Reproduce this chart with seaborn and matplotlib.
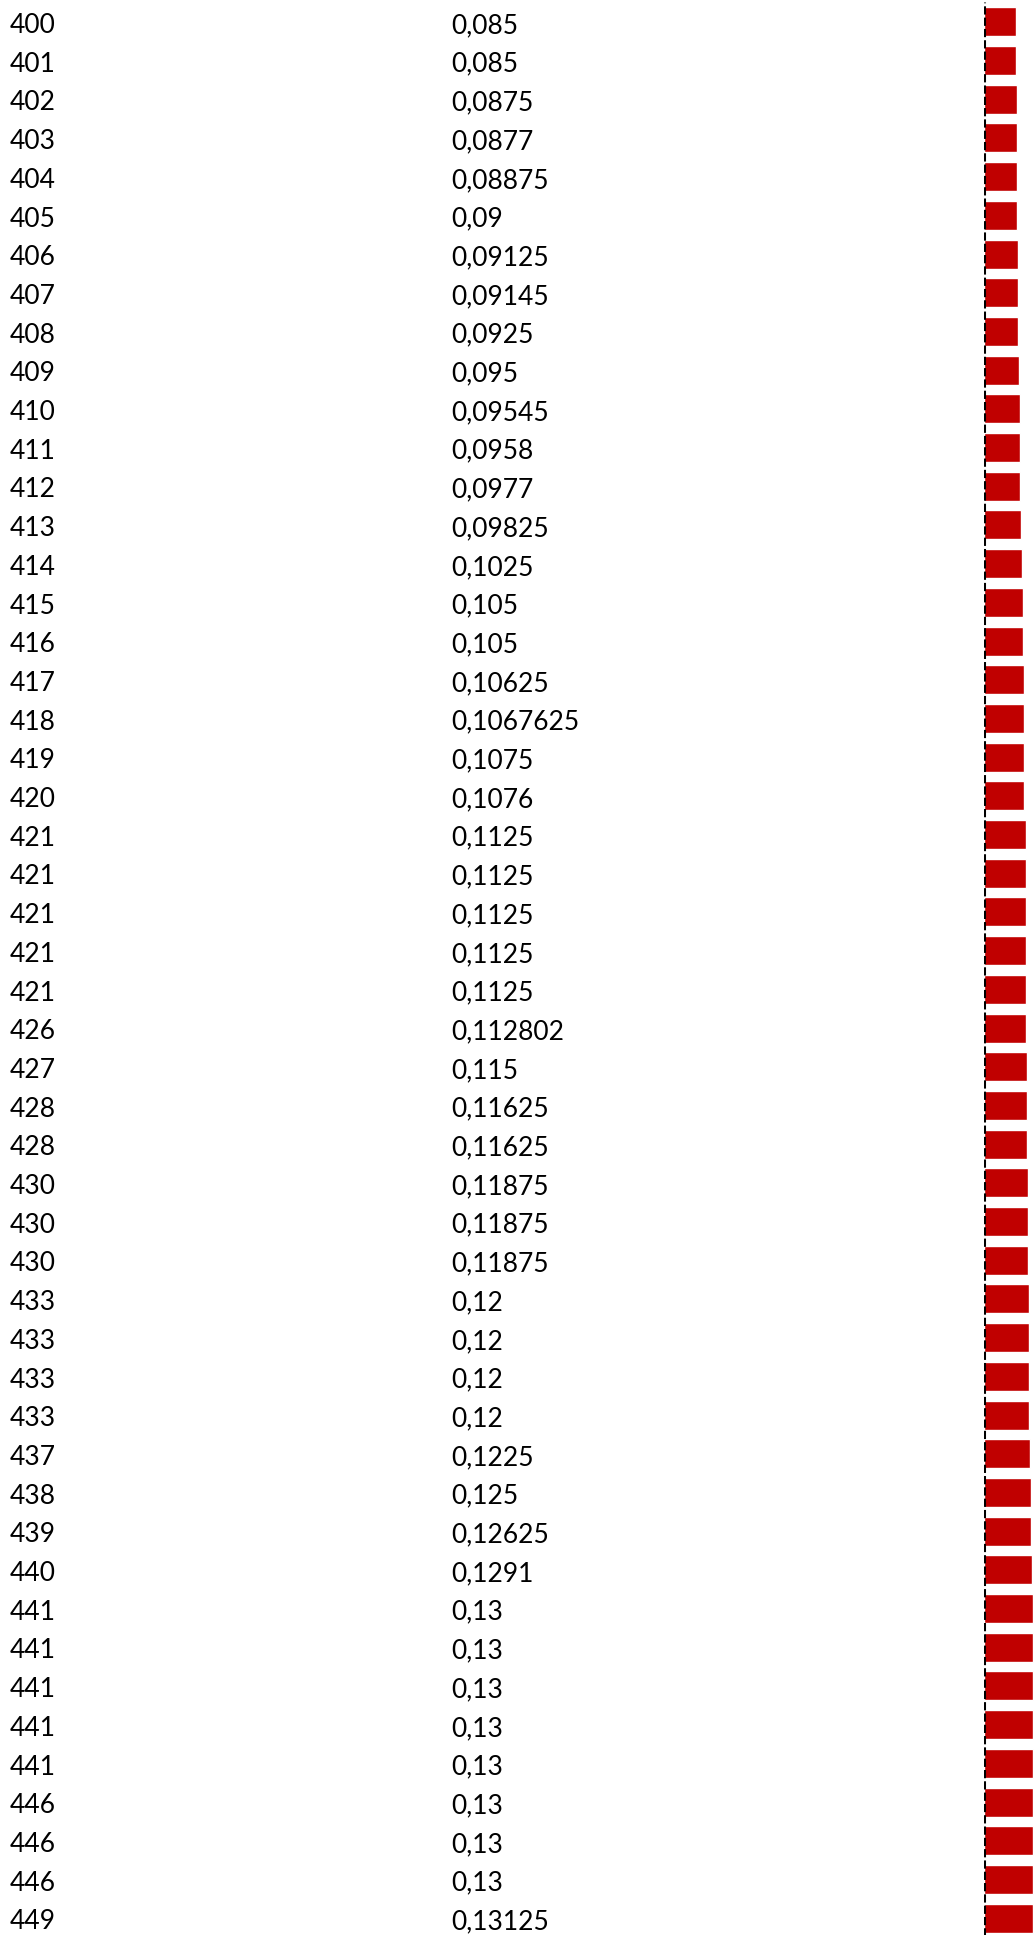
import matplotlib
matplotlib.use("Agg")
import matplotlib.pyplot as plt
import matplotlib.transforms as mtransforms
import seaborn as sns
import pandas as pd

# spreadsheet columns
ids = [400, 401, 402, 403, 404, 405, 406, 407, 408, 409,
       410, 411, 412, 413, 414, 415, 416, 417, 418, 419,
       420, 421, 421, 421, 421, 421, 426, 427, 428, 428,
       430, 430, 430, 433, 433, 433, 433, 437, 438, 439,
       440, 441, 441, 441, 441, 441, 446, 446, 446, 449]
values = [0.085, 0.085, 0.0875, 0.0877, 0.08875, 0.09, 0.09125, 0.09145, 0.0925, 0.095,
          0.09545, 0.0958, 0.0977, 0.09825, 0.1025, 0.105, 0.105, 0.10625, 0.1067625, 0.1075,
          0.1076, 0.1125, 0.1125, 0.1125, 0.1125, 0.1125, 0.112802, 0.115, 0.11625, 0.11625,
          0.11875, 0.11875, 0.11875, 0.12, 0.12, 0.12, 0.12, 0.1225, 0.125, 0.12625,
          0.1291, 0.13, 0.13, 0.13, 0.13, 0.13, 0.13, 0.13, 0.13, 0.13125]

df = pd.DataFrame({"row": [str(i) for i in range(len(ids))], "id": ids, "value": values})

sns.set_style("white")
plt.rcParams["font.family"] = ["Lato", "DejaVu Sans"]

W, H = 1036, 1935
fig = plt.figure(figsize=(W / 100, H / 100), dpi=100)
ax = fig.add_axes([983.5 / W, -2.5 / H, 1 - 983.5 / W, 1])

sns.barplot(data=df, x="value", y="row", orient="h", color="#C00000",
            saturation=1, width=0.75, ax=ax, order=df["row"])
ax.set_xlim(0, 0.139)
ax.axvline(0, color="black", lw=2.2, linestyle=(0, (2.7, 1.0)))
ax.set_axis_off()

# cell text, rows placed through the bar axis
trans = mtransforms.blended_transform_factory(fig.transFigure, ax.transData)
for i, (n, v) in enumerate(zip(ids, values)):
    ax.text(10 / W, i + 0.29, str(n), transform=trans, fontsize=19,
            va="baseline", ha="left", color="black", clip_on=False)
    ax.text(451 / W, i + 0.29, str(v).replace(".", ","), transform=trans,
            fontsize=19, va="baseline", ha="left", color="black", clip_on=False)

fig.savefig("out.png", dpi=100)
plt.close(fig)
